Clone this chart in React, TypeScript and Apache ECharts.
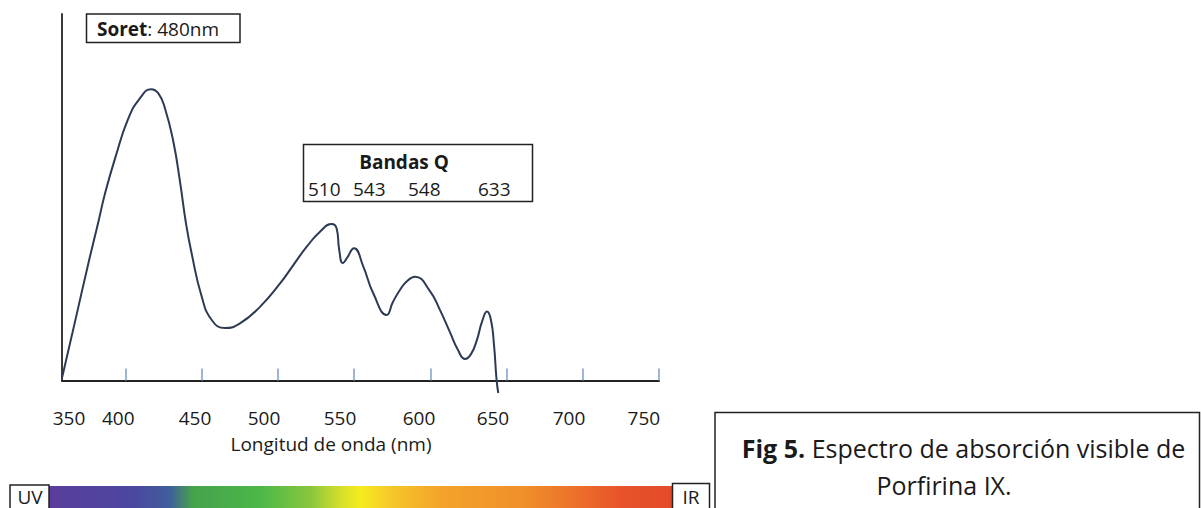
import React, { useEffect, useRef } from "react";
import * as echarts from "echarts";

// Curve (x: nm on the ticked axis scale, y: relative absorbance)
const wavelengths = [
  358.5, 367.0, 375.7, 382.3, 386.7, 393.3, 402.0, 409.6, 416.9, 421.6, 426.0, 431.5, 435.9,
  439.8, 443.5, 450.1, 456.7, 465.4, 475.2, 488.3, 501.5, 510.2, 519.0, 527.7, 535.4, 538.6,
  540.3, 542.6, 545.2, 550.0, 556.1, 562.6, 571.4, 575.5, 580.1, 584.7, 590.0, 599.8, 606.4,
  612.9, 618.2, 622.8, 626.7, 630.6, 633.9, 637.2, 639.8, 641.8, 643.5, 644.6,
];
const absorbance = [
  0.7, 16.0, 31.8, 43.2, 51.0, 60.6, 71.5, 77.0, 79.5, 78.4, 74.3, 65.2, 54.2,
  42.9, 34.7, 22.9, 16.5, 14.3, 15.6, 20.1, 26.5, 31.5, 36.5, 40.6, 42.7, 41.5,
  35.6, 32.0, 33.3, 36.1, 31.1, 23.8, 17.9, 21.4, 24.7, 27.1, 28.3, 24.4, 19.2,
  13.2, 8.3, 5.9, 7.2, 11.1, 16.0, 18.8, 16.5, 9.7, 0.1, -3.4,
];

const xTicks = [400, 450, 500, 550, 600, 650, 700, 750];
const tickLabels = ["350", "400", "450", "500", "550", "600", "650", "700", "750"];
const labelAt = [363.1, 395.4, 445.7, 491.0, 540.8, 592.6, 641.1, 691.0, 740.1];
const bandasQ = ["510", "543", "548", "633"];
const bandasX = [308, 353, 408, 478];

const FONT = "Open Sans";
const FS = 19;
const CAP = 25;

export default function App() {
  const ref = useRef<HTMLDivElement>(null);
  useEffect(() => {
    if (!ref.current) return;
    const chart = echarts.init(ref.current, null, { renderer: "svg" });
    const textStyle = (extra: any) => ({
      fontFamily: FONT,
      fontSize: FS,
      fill: "#1a1a1a",
      verticalAlign: "middle",
      ...extra,
    });
    chart.setOption({
      animation: false,
      backgroundColor: "#ffffff",
      grid: { left: 62, right: 542, top: 14, bottom: 127.5 },
      xAxis: {
        type: "value",
        min: 358.5,
        max: 750,
        axisLine: { show: true, lineStyle: { color: "#222222", width: 2 } },
        axisTick: {
          show: true,
          inside: true,
          length: 12,
          customValues: xTicks,
          lineStyle: { color: "#7f9ccb", width: 1.5 },
        },
        axisLabel: {
          show: true,
          customValues: labelAt,
          margin: 37.5,
          verticalAlign: "middle",
          fontFamily: FONT,
          fontSize: FS,
          color: "#1a1a1a",
          formatter: (v: number) => {
            let best = 0;
            labelAt.forEach((p, i) => {
              if (Math.abs(p - v) < Math.abs(labelAt[best] - v)) best = i;
            });
            return tickLabels[best];
          },
        },
        splitLine: { show: false },
      },
      yAxis: {
        type: "value",
        min: 0,
        max: 100,
        axisLine: { show: true, lineStyle: { color: "#3a3a3a", width: 2 } },
        axisTick: { show: false },
        axisLabel: { show: false },
        splitLine: { show: false },
      },
      series: [
        {
          type: "line",
          data: wavelengths.map((w, i) => [w, absorbance[i]]),
          showSymbol: false,
          smooth: 0.5,
          clip: false,
          lineStyle: { color: "#2d3a55", width: 2 },
        },
      ],
      graphic: [
        // Soret box
        {
          type: "rect",
          shape: { x: 86.5, y: 14, width: 153.5, height: 28.5 },
          style: { fill: "#ffffff", stroke: "#222222", lineWidth: 1.5 },
        },
        {
          type: "text",
          x: 97,
          y: 28.5,
          style: textStyle({
            text: "{b|Soret}: 480nm",
            rich: { b: { fontWeight: "bold", fontFamily: FONT, fontSize: FS, fill: "#1a1a1a" } },
          }),
        },
        // Bandas Q box
        {
          type: "rect",
          shape: { x: 303.5, y: 144.5, width: 229, height: 57 },
          style: { fill: "#ffffff", stroke: "#222222", lineWidth: 1.5 },
        },
        {
          type: "text",
          x: 404,
          y: 161.5,
          style: textStyle({ text: "Bandas Q", fontWeight: "bold", align: "center" }),
        },
        ...bandasQ.map((t, i) => ({
          type: "text",
          x: bandasX[i],
          y: 189,
          style: textStyle({ text: t, align: "left" }),
        })),
        // axis title
        {
          type: "text",
          x: 331,
          y: 444,
          style: textStyle({ text: "Longitud de onda (nm)", align: "center" }),
        },
        // spectrum bar
        {
          type: "rect",
          shape: { x: 49, y: 486, width: 623.5, height: 24 },
          style: {
            fill: new echarts.graphic.LinearGradient(0, 0, 1, 0, [
              { offset: 0, color: "#5a3d9c" },
              { offset: 0.136, color: "#4b47a0" },
              { offset: 0.194, color: "#3f5f9c" },
              { offset: 0.23, color: "#45a24c" },
              { offset: 0.34, color: "#4cb848" },
              { offset: 0.42, color: "#8ac73c" },
              { offset: 0.47, color: "#d8e02a" },
              { offset: 0.5, color: "#f5ec1e" },
              { offset: 0.55, color: "#f6c72a" },
              { offset: 0.63, color: "#f3a22b" },
              { offset: 0.76, color: "#f0902a" },
              { offset: 0.85, color: "#ec6e2a" },
              { offset: 0.92, color: "#e8522a" },
              { offset: 1, color: "#e44a28" },
            ]),
          },
        },
        {
          type: "rect",
          shape: { x: 10, y: 485, width: 39, height: 40 },
          style: { fill: "#ffffff", stroke: "#222222", lineWidth: 1.5 },
        },
        { type: "text", x: 30, y: 496.5, style: textStyle({ text: "UV", align: "center" }) },
        {
          type: "rect",
          shape: { x: 672.5, y: 483.5, width: 37, height: 40 },
          style: { fill: "#ffffff", stroke: "#222222", lineWidth: 1.5 },
        },
        { type: "text", x: 691, y: 496.5, style: textStyle({ text: "IR", align: "center" }) },
        // caption box
        {
          type: "rect",
          shape: { x: 715, y: 412.5, width: 484.5, height: 110 },
          style: { fill: "#ffffff", stroke: "#222222", lineWidth: 1.5 },
        },
        {
          type: "text",
          x: 963.5,
          y: 448,
          style: textStyle({
            text: "{b|Fig 5.} Espectro de absorción visible de",
            align: "center",
            fontSize: CAP,
            rich: { b: { fontWeight: "bold", fontFamily: FONT, fontSize: CAP, fill: "#1a1a1a" } },
          }),
        },
        {
          type: "text",
          x: 944,
          y: 485,
          style: textStyle({ text: "Porfirina IX.", align: "center", fontSize: CAP }),
        },
      ],
    });
    return () => chart.dispose();
  }, []);
  return (
    <div
      ref={ref}
      style={{ position: "fixed", left: 0, top: 0, width: 1201, height: 508, background: "#fff" }}
    />
  );
}
